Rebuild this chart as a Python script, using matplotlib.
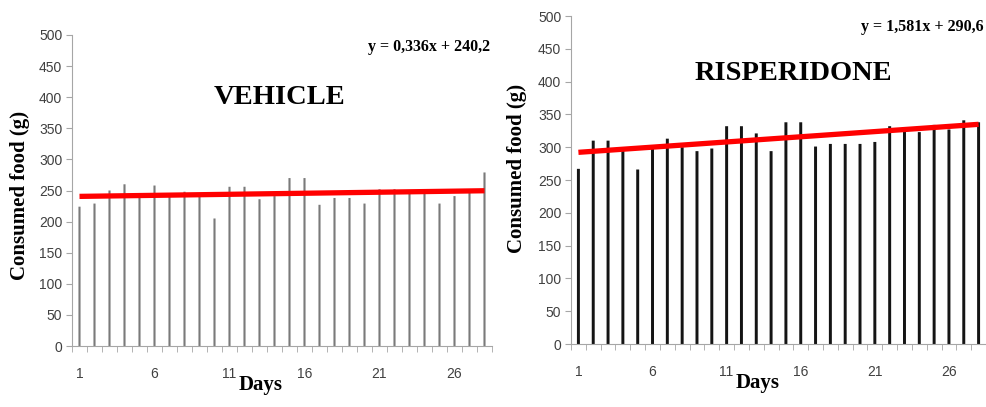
import matplotlib.pyplot as plt
import numpy as np

# Daily food intake (g) over 28 days for both groups
days = list(range(1, 29))
vehicle_food = [224, 229, 250, 260, 246, 258, 240, 248, 240, 205,
                256, 256, 236, 241, 270, 270, 227, 238, 238, 229,
                252, 252, 245, 245, 229, 241, 246, 279]
risperidone_food = [267, 310, 310, 295, 266, 298, 313, 300, 294, 298,
                    332, 332, 321, 294, 338, 338, 301, 305, 305, 305,
                    308, 332, 324, 323, 334, 327, 341, 338]

# Linear trend coefficients (slope, intercept)
vehicle_fit = (0.336, 240.2)
risperidone_fit = (1.581, 290.6)
vehicle_eq = "y = 0,336x + 240,2"
risperidone_eq = "y = 1,581x + 290,6"

day_ticks = [1, 6, 11, 16, 21, 26]
food_ticks = list(range(0, 501, 50))

SERIF = "Liberation Serif"
SANS = "Liberation Sans"
TICK_COLOR = "#404040"
SPINE_COLOR = "#a6a6a6"


def draw_panel(ax, values, fit, eq_text, title, bar_color, bar_width,
               title_xy, eq_xy, days_y, ylabel_xy):
    ax.bar(days, values, width=bar_width, color=bar_color, snap=False,
           zorder=2)

    x = np.array([days[0], days[-1]])
    ax.plot(x, fit[0] * x + fit[1], color="#ff0000", lw=3.8,
            solid_capstyle="butt", zorder=3)

    ax.set_xlim(0.5, 28.5)
    ax.set_ylim(0, 500)
    ax.set_yticks(food_ticks)
    ax.set_xticks(day_ticks)
    ax.set_xticks(np.arange(0.5, 29, 1), minor=True)
    ax.tick_params(axis="x", which="major", length=0, pad=15,
                   labelsize=10, labelcolor=TICK_COLOR)
    ax.tick_params(axis="x", which="minor", length=4, color=SPINE_COLOR)
    ax.tick_params(axis="y", length=4, color=SPINE_COLOR, pad=3,
                   labelsize=10, labelcolor=TICK_COLOR)
    for lab in ax.get_xticklabels() + ax.get_yticklabels():
        lab.set_fontfamily(SANS)

    for side in ("top", "right"):
        ax.spines[side].set_visible(False)
    for side in ("left", "bottom"):
        ax.spines[side].set_color(SPINE_COLOR)

    ax.set_ylabel("Consumed food (g)", fontfamily=SERIF, fontweight="bold",
                  fontsize=15)
    ax.yaxis.set_label_coords(*ylabel_xy)
    ax.text(title_xy[0], title_xy[1], title, transform=ax.transAxes,
            ha="center", va="center", fontfamily=SERIF, fontweight="bold",
            fontsize=20.5)
    ax.text(eq_xy[0], eq_xy[1], eq_text, transform=ax.transAxes,
            ha="right", va="center", fontfamily=SERIF, fontweight="bold",
            fontsize=11.5)
    ax.text(0.45, days_y, "Days", transform=ax.transAxes,
            ha="center", va="center", fontfamily=SERIF, fontweight="bold",
            fontsize=15)


fig = plt.figure(figsize=(9.86, 4.07), dpi=100)

W, H = 986, 407
# left panel: axis spans x 72..492 px, y 35..346 px
ax1 = fig.add_axes([72 / W, (H - 346) / H, (492 - 72) / W, (346 - 35) / H])
# right panel: axis spans x 571..986 px, y 16..344 px
ax2 = fig.add_axes([571 / W, (H - 344) / H, (986 - 571) / W, (344 - 16) / H])

draw_panel(ax1, vehicle_food, vehicle_fit, vehicle_eq, "VEHICLE",
           "#7a7a7a", 0.14, (0.495, 0.80), (0.995, 0.96), -0.125,
           (-0.10, 0.485))
draw_panel(ax2, risperidone_food, risperidone_fit, risperidone_eq,
           "RISPERIDONE", "#141414", 0.2, (0.535, 0.825), (0.995, 0.965),
           -0.12, (-0.106, 0.535))

fig.savefig("out.png", dpi=100, facecolor="white")
